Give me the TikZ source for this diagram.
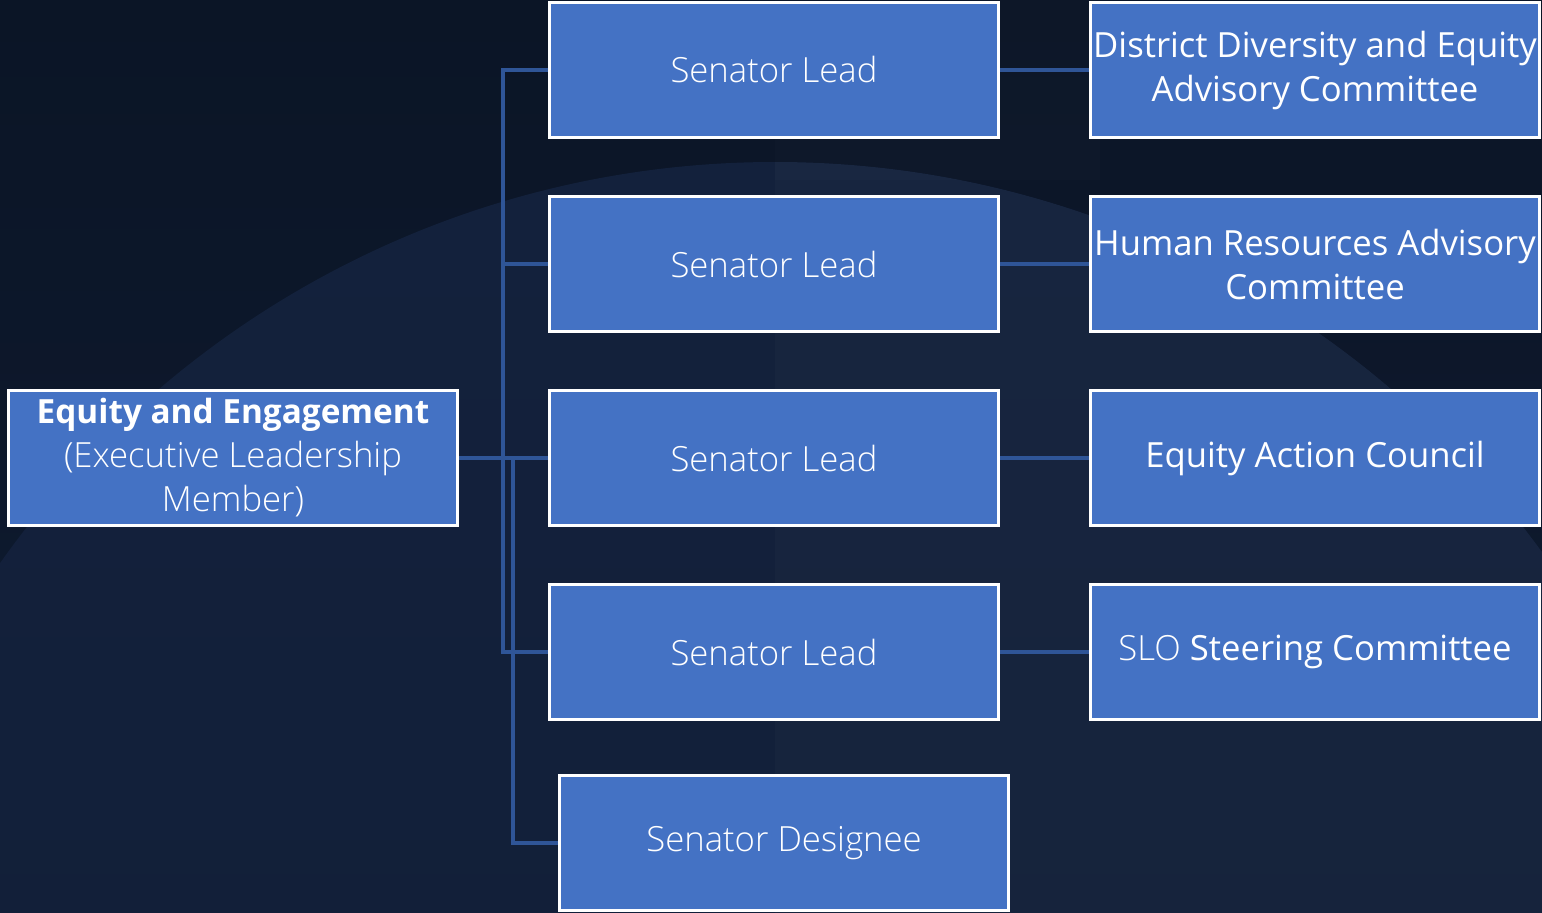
\documentclass[tikz,border=0pt]{standalone}
\usepackage{fontspec}
\setmainfont{Open Sans}
\IfFontExistsTF{Open Sans Light}{\newfontfamily\oslight{Open Sans Light}}{\newfontfamily\oslight{Open Sans}}
\newcommand\titlefont{\bfseries\fontsize{25}{33}\selectfont}
\IfFontExistsTF{Open Sans SemiBold}{\renewcommand\titlefont{\fontspec{Open Sans SemiBold}}}{}
\definecolor{boxblue}{HTML}{4472C4}
\definecolor{linkblue}{HTML}{2F5597}
\definecolor{bgtop}{HTML}{0B1526}
\definecolor{bgbot}{HTML}{0F1B31}
\definecolor{circtop}{HTML}{13213C}
\definecolor{circbot}{HTML}{111D35}
\begin{document}
\begin{tikzpicture}[x=0.75pt,y=-0.75pt,
  box/.style={draw=white, line width=2.25pt, fill=boxblue, text=white,
    minimum width=336.75pt, minimum height=101.25pt, inner sep=0pt,
    align=center, font=\fontsize{26}{33}\selectfont},
  link/.style={draw=linkblue, line width=2.3pt}]
\useasboundingbox (0,0) rectangle (1542,913);
% background
\shade[top color=bgtop, bottom color=bgbot] (0,0) rectangle (1542,913);
\begin{scope}
  \clip (0,0) rectangle (1542,913);
  \shade[top color=circtop, bottom color=circbot] (775,1111) circle[radius=949];
  \clip (775,1111) circle[radius=949];
  \fill[white, opacity=0.02] (775,0) rectangle (1542,913);
\end{scope}
\fill[white, opacity=0.012] (775,0) rectangle (1100,180);
% nodes
\node[box] (main) at (233,458) {{\titlefont Equity and Engagement}\\{\oslight (Executive Leadership}\\{\oslight Member)}};
\node[box] (s1) at (774,70) {\oslight Senator Lead};
\node[box] (s2) at (774,264) {\oslight Senator Lead};
\node[box] (s3) at (774,458) {\oslight Senator Lead};
\node[box] (s4) at (774,652) {\oslight Senator Lead};
\node[box] (des) at (784,843) {\oslight Senator Designee};
\node[box] (c1) at (1315,70) {District Diversity and Equity\\Advisory Committee};
\node[box] (c2) at (1315,264) {Human Resources Advisory\\Committee};
\node[box] (c3) at (1315,458) {Equity Action Council};
\node[box] (c4) at (1315,652) {{\oslight SLO} Steering Committee};
% connectors
\draw[link] (main.east) -- (s3.west);
\draw[link] (main.east) -- ++(44,0) |- (s1.west);
\draw[link] (main.east) -- ++(44,0) |- (s2.west);
\draw[link] (main.east) -- ++(44,0) |- (s4.west);
\draw[link] (main.east) -- ++(54,0) |- (des.west);
\draw[link] (s1.east) -- (c1.west);
\draw[link] (s2.east) -- (c2.west);
\draw[link] (s3.east) -- (c3.west);
\draw[link] (s4.east) -- (c4.west);
\end{tikzpicture}
\end{document}
